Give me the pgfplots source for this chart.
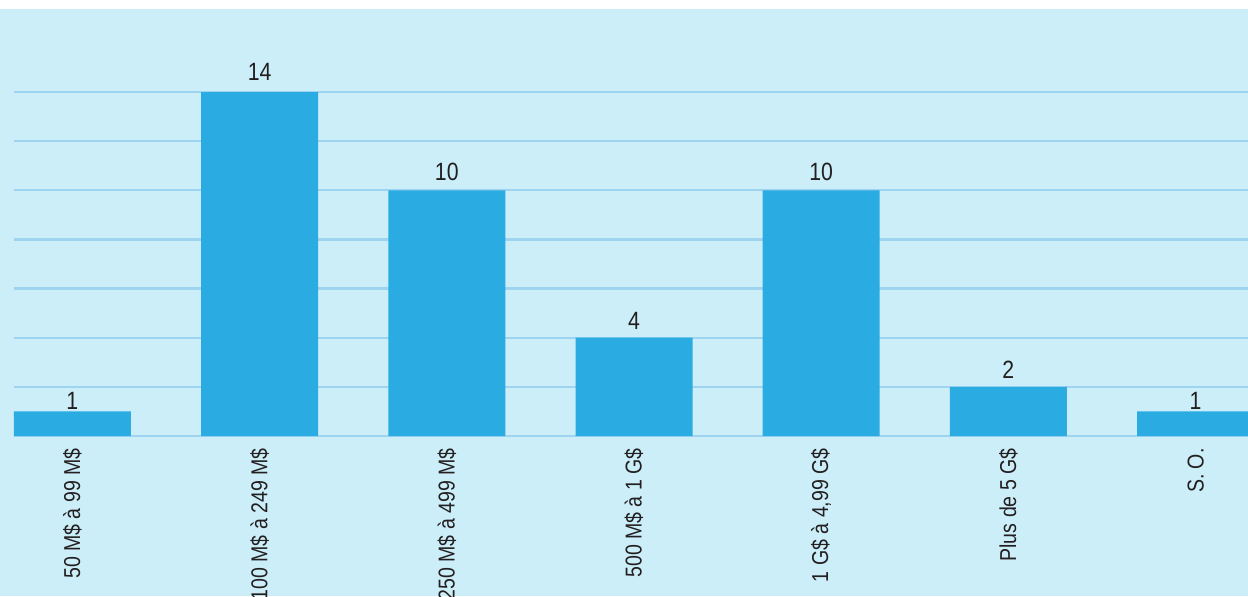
\documentclass[border=0pt]{standalone}
\usepackage{pgfplots}
\pgfplotsset{compat=1.18}
\usepackage{fontspec}
\setmainfont{Liberation Sans}[FakeStretch=0.85]
\definecolor{bg}{HTML}{CCEEF9}
\definecolor{barc}{HTML}{2AACE2}
\definecolor{gridc}{HTML}{9FD4F1}
\definecolor{txt}{HTML}{231F20}
\begin{document}
\begin{tikzpicture}
\clip (-7pt,-80pt) rectangle (617pt,218pt);
\fill[white] (-7pt,-80pt) rectangle (617pt,218pt);
\fill[bg] (-7pt,-80pt) rectangle (617pt,213.5pt);
\begin{axis}[
  at={(0,0)}, anchor=south west,
  scale only axis, width=617pt, height=172pt,
  xmin=-0.312, xmax=6.28, ymin=0, ymax=14,
  clip=false,
  axis line style={draw=none},
  major tick length=0pt,
  ytick={0,2,...,14}, yticklabels={},
  ymajorgrids, grid style={draw=gridc, line width=1.2pt},
  xtick={0,...,6},
  xticklabels={50 M\$ à 99 M\$, 100 M\$ à 249 M\$, 250 M\$ à 499 M\$, 500 M\$ à 1 G\$, 1 G\$ à 4{,}99 G\$, Plus de 5 G\$, S. O.},
  xticklabel style={rotate=90, anchor=east, inner sep=0pt, font=\fontsize{11.5}{13}\selectfont, text=txt},
  xticklabel shift=6pt,
  ybar, bar width=58.5pt, bar shift=0pt,
  /pgf/number format/assume math mode=true,
  nodes near coords,
  visualization depends on={value \thisrow{off} \as \off},
  nodes near coords style={anchor=south, inner sep=0pt, yshift=\off pt, font=\fontsize{12.5}{15}\selectfont, text=txt},
]
\addplot[fill=barc, draw=none] table[x=x, y=y] {
x y off
0 1 1
1 14 5.5
2 10 4.5
3 4 4
4 10 4.5
5 2 4
6 1 1
};
\end{axis}
\end{tikzpicture}
\end{document}
